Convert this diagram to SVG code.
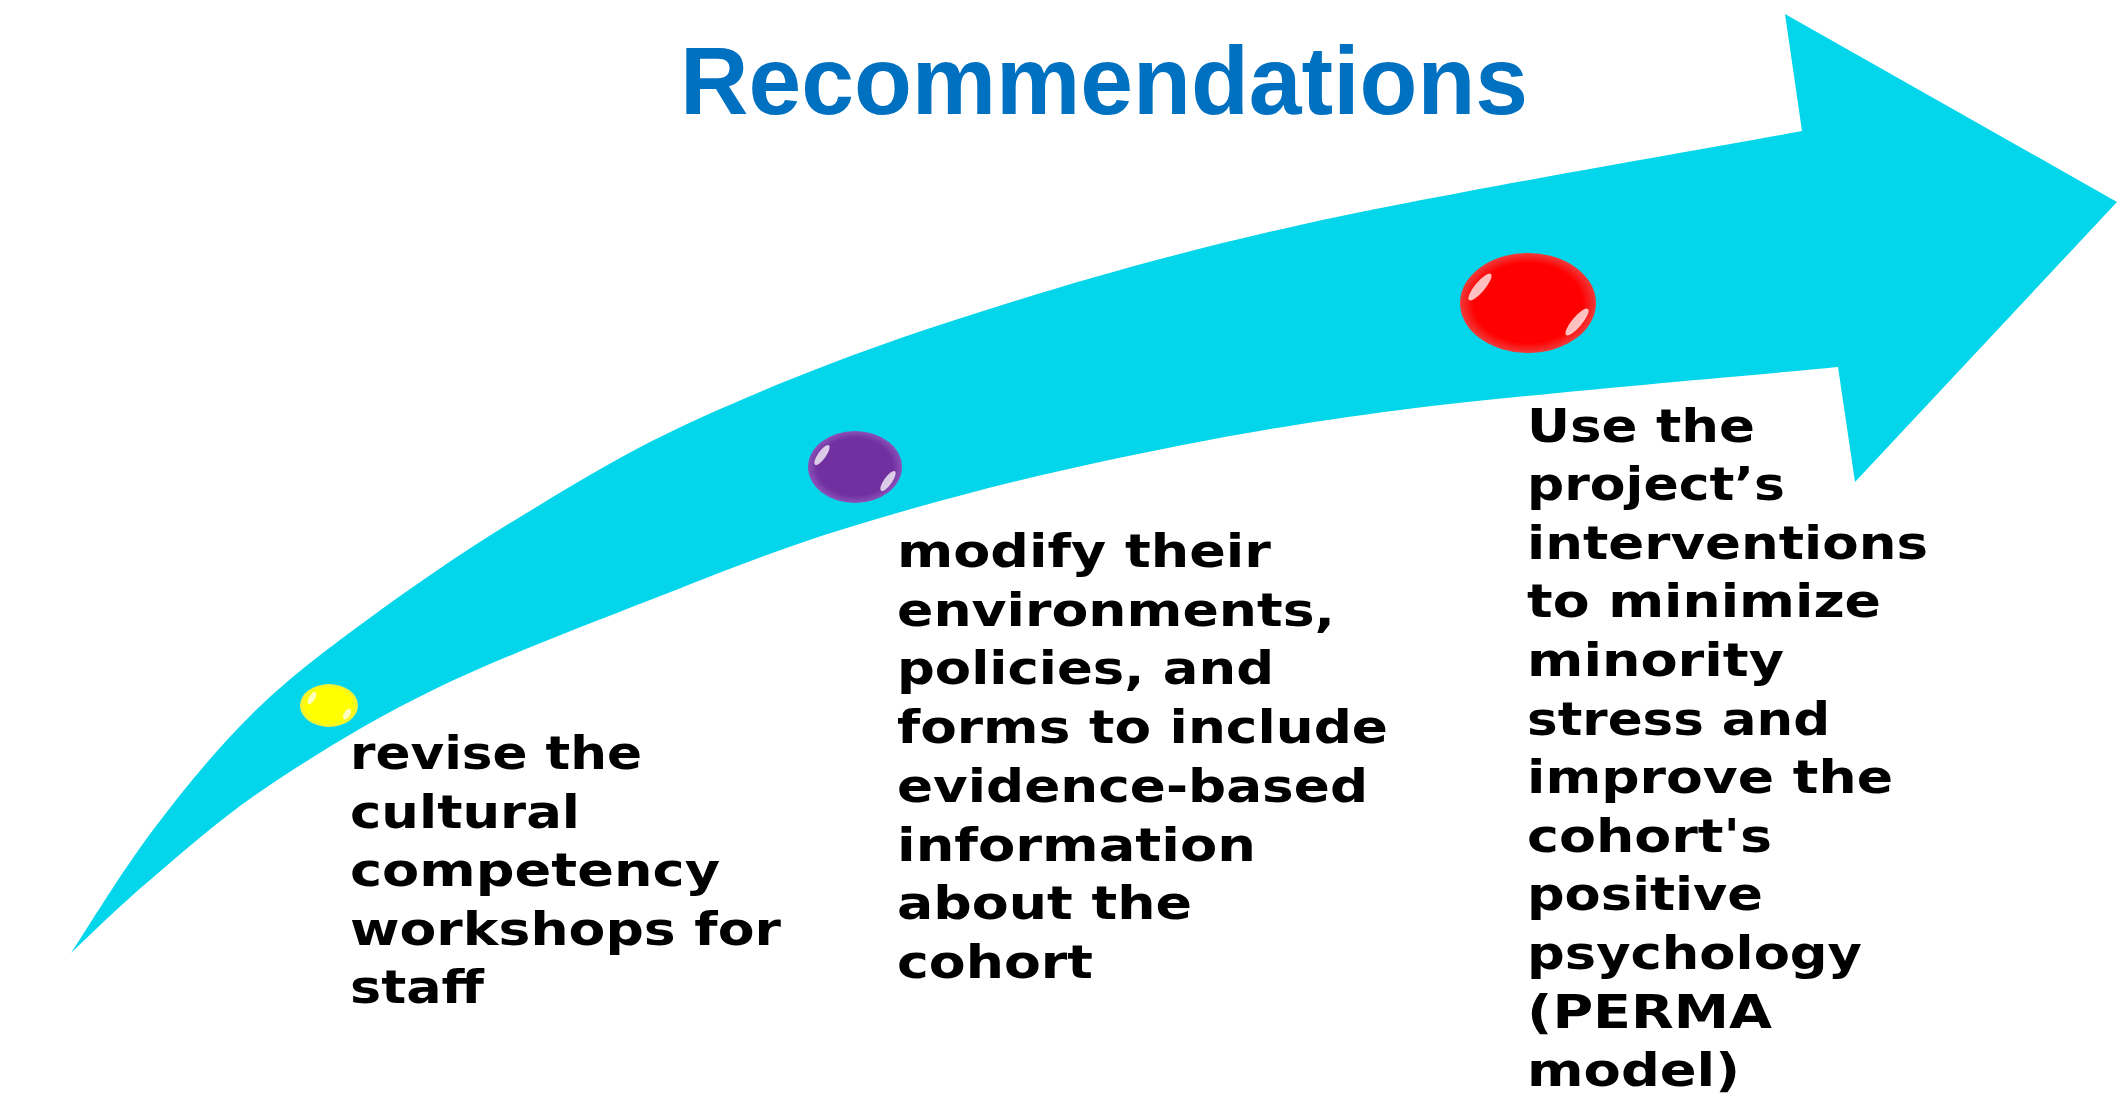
<svg xmlns="http://www.w3.org/2000/svg" width="2118" height="1102" viewBox="0 0 2118 1102">
<style>
.title{font-family:"Liberation Sans",Arial,sans-serif;font-weight:bold;font-size:97px;fill:#0070C0}
.lbl{font-family:"DejaVu Sans","Liberation Sans",sans-serif;font-weight:bold;font-size:47px;fill:#000}
.hl{fill:#fff;opacity:0.75}
</style>
<defs>
<radialGradient id="gy" cx="0.5" cy="0.5" r="0.5"><stop offset="0.8" stop-color="#FFFF00"/><stop offset="1" stop-color="#EFEF40"/></radialGradient>
<radialGradient id="gp" cx="0.5" cy="0.5" r="0.5"><stop offset="0.8" stop-color="#7030A0"/><stop offset="1" stop-color="#8a52b8"/></radialGradient>
<radialGradient id="gr" cx="0.5" cy="0.5" r="0.5"><stop offset="0.8" stop-color="#FF0000"/><stop offset="1" stop-color="#f03a3a"/></radialGradient>
</defs>
<rect width="2118" height="1102" fill="#fff"/>
<g id="arrow">
<path fill="#03D6EA" d="M71,953 C84.2,940.8 117.3,907.7 150,880 C182.7,852.3 219.8,818.7 267,787 C314.2,755.3 369.2,721.2 433,690 C496.8,658.8 580.5,627.2 650,600 C719.5,572.8 775,550 850,527 C925,504 1008.3,481.5 1100,462 C1191.7,442.5 1277,425.8 1400,410 C1523,394.2 1765,374.2 1838,367 L1855,482 L2117,202 L1785,14 L1802,131 C1718.3,146.7 1441.2,193.5 1300,225 C1158.8,256.5 1055,287.8 955,320 C855,352.2 772.5,385.2 700,418 C627.5,450.8 575.5,483.3 520,517 C464.5,550.7 411.5,587.3 367,620 C322.5,652.7 288.7,678 253,713 C217.3,748 183.3,790 153,830 C122.7,870 84.7,932.5 71,953 Z"/>
</g>
<g id="title"><text class="title" x="680" y="114" textLength="848" lengthAdjust="spacingAndGlyphs">Recommendations</text></g>
<g id="dot-yellow">
<ellipse cx="329" cy="705.5" rx="29" ry="21.5" fill="url(#gy)"/>
<ellipse class="hl" cx="312" cy="698" rx="3" ry="7" transform="rotate(30 312 698)"/>
<ellipse class="hl" cx="347" cy="714" rx="3" ry="6" transform="rotate(30 347 714)"/>
</g>
<g id="dot-purple">
<ellipse cx="855" cy="467" rx="47" ry="36" fill="url(#gp)"/>
<ellipse class="hl" cx="822" cy="455" rx="4" ry="12" transform="rotate(35 822 455)"/>
<ellipse class="hl" cx="888" cy="481" rx="4" ry="12" transform="rotate(35 888 481)"/>
</g>
<g id="dot-red">
<ellipse cx="1528" cy="303" rx="68" ry="50" fill="url(#gr)"/>
<ellipse class="hl" cx="1480" cy="287" rx="5" ry="17" transform="rotate(40 1480 287)"/>
<ellipse class="hl" cx="1577" cy="322" rx="5" ry="17" transform="rotate(40 1577 322)"/>
</g>
<g id="step1">
<text class="lbl" x="350" y="769" textLength="292" lengthAdjust="spacingAndGlyphs">revise the</text>
<text class="lbl" x="350" y="827.6" textLength="230" lengthAdjust="spacingAndGlyphs">cultural</text>
<text class="lbl" x="350" y="886.2" textLength="370" lengthAdjust="spacingAndGlyphs">competency</text>
<text class="lbl" x="350" y="944.8" textLength="431" lengthAdjust="spacingAndGlyphs">workshops for</text>
<text class="lbl" x="350" y="1003.4" textLength="134" lengthAdjust="spacingAndGlyphs">staff</text>
</g>
<g id="step2">
<text class="lbl" x="897" y="567" textLength="374" lengthAdjust="spacingAndGlyphs">modify their</text>
<text class="lbl" x="897" y="625.7" textLength="438" lengthAdjust="spacingAndGlyphs">environments,</text>
<text class="lbl" x="897" y="684.4" textLength="377" lengthAdjust="spacingAndGlyphs">policies, and</text>
<text class="lbl" x="897" y="743.1" textLength="491" lengthAdjust="spacingAndGlyphs">forms to include</text>
<text class="lbl" x="897" y="801.8" textLength="471" lengthAdjust="spacingAndGlyphs">evidence-based</text>
<text class="lbl" x="897" y="860.5" textLength="359" lengthAdjust="spacingAndGlyphs">information</text>
<text class="lbl" x="897" y="919.2" textLength="295" lengthAdjust="spacingAndGlyphs">about the</text>
<text class="lbl" x="897" y="977.9" textLength="196" lengthAdjust="spacingAndGlyphs">cohort</text>
</g>
<g id="step3">
<text class="lbl" x="1527" y="441.5" textLength="228" lengthAdjust="spacingAndGlyphs">Use the</text>
<text class="lbl" x="1527" y="500.1" textLength="258" lengthAdjust="spacingAndGlyphs">project’s</text>
<text class="lbl" x="1527" y="558.7" textLength="401" lengthAdjust="spacingAndGlyphs">interventions</text>
<text class="lbl" x="1527" y="617.3" textLength="354" lengthAdjust="spacingAndGlyphs">to minimize</text>
<text class="lbl" x="1527" y="675.9" textLength="257" lengthAdjust="spacingAndGlyphs">minority</text>
<text class="lbl" x="1527" y="734.5" textLength="303" lengthAdjust="spacingAndGlyphs">stress and</text>
<text class="lbl" x="1527" y="793.1" textLength="366" lengthAdjust="spacingAndGlyphs">improve the</text>
<text class="lbl" x="1527" y="851.7" textLength="245" lengthAdjust="spacingAndGlyphs">cohort's</text>
<text class="lbl" x="1527" y="910.3" textLength="236" lengthAdjust="spacingAndGlyphs">positive</text>
<text class="lbl" x="1527" y="968.9" textLength="335" lengthAdjust="spacingAndGlyphs">psychology</text>
<text class="lbl" x="1527" y="1027.5" textLength="245" lengthAdjust="spacingAndGlyphs">(PERMA</text>
<text class="lbl" x="1527" y="1086.1" textLength="213" lengthAdjust="spacingAndGlyphs">model)</text>
</g>
</svg>
